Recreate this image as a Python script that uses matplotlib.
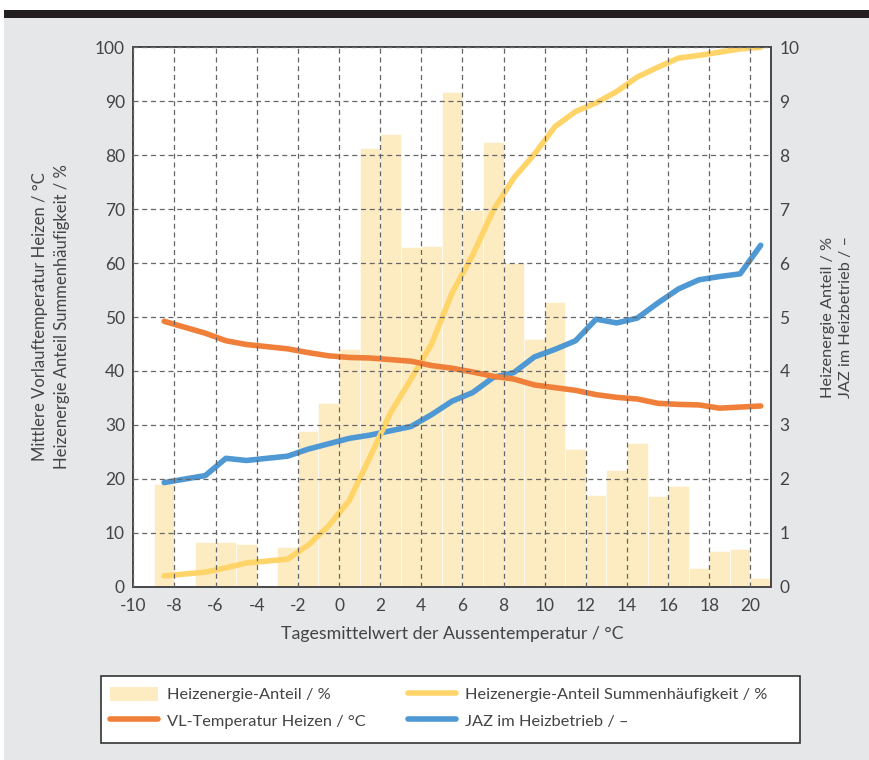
import matplotlib
matplotlib.use("Agg")
import matplotlib.pyplot as plt
from matplotlib.patches import Rectangle
from matplotlib.lines import Line2D
from matplotlib.patches import Patch

plt.rcParams['font.family'] = ['Lato', 'DejaVu Sans']
plt.rcParams['axes.unicode_minus'] = False

# ---- data ----
bar_left = [-9, -8, -7, -6, -5, -4, -3, -2, -1, 0, 1, 2, 3, 4, 5, 6, 7, 8, 9, 10,
            11, 12, 13, 14, 15, 16, 17, 18, 19, 20]
heizenergie_anteil = [1.90, 0.0, 0.835, 0.82, 0.79, 0.0, 0.74, 2.88, 3.41, 4.41,
                      8.13, 8.40, 6.30, 6.32, 9.18, 6.99, 8.24, 6.01, 4.60, 5.27,
                      2.55, 1.70, 2.16, 2.66, 1.68, 1.87, 0.35, 0.66, 0.69, 0.17]

line_x = [-8.5, -6.5, -5.5, -4.5, -2.5, -1.5, -0.5, 0.5, 1.5, 2.5, 3.5, 4.5, 5.5,
          6.5, 7.5, 8.5, 9.5, 10.5, 11.5, 12.5, 13.5, 14.5, 15.5, 16.5, 17.5,
          18.5, 19.5, 20.5]
summenhaeufigkeit = [2.0, 2.7, 3.5, 4.4, 5.1, 7.7, 11.3, 16.0, 24.0, 32.2, 38.5,
                     45.0, 54.5, 61.5, 69.8, 75.8, 80.2, 85.3, 88.1, 89.7, 91.8,
                     94.5, 96.3, 98.0, 98.5, 99.1, 99.7, 100.0]
vl_temperatur = [49.2, 47.0, 45.6, 44.9, 44.1, 43.4, 42.8, 42.5, 42.4, 42.1, 41.8,
                 41.0, 40.5, 39.8, 39.0, 38.5, 37.4, 36.9, 36.4, 35.6, 35.1, 34.8,
                 34.0, 33.8, 33.7, 33.1, 33.3, 33.5]
jaz = [1.93, 2.06, 2.38, 2.34, 2.42, 2.55, 2.65, 2.75, 2.81, 2.89, 2.97, 3.19,
       3.44, 3.60, 3.88, 3.97, 4.26, 4.40, 4.56, 4.96, 4.89, 4.98, 5.26, 5.52,
       5.69, 5.75, 5.80, 6.33]

x_ticks = list(range(-10, 21, 2))
left_ticks = list(range(0, 101, 10))
right_ticks = list(range(0, 11, 1))

# ---- style ----
bg = '#E6E7E8'
txt = '#444444'
c_bar = '#FDEBC1'
c_yel = '#FFD56A'
c_ora = '#F07F3A'
c_blu = '#4E98D4'

W, H = 869, 760
fig = plt.figure(figsize=(W / 100, H / 100), dpi=100, facecolor='white')
fig.add_artist(Rectangle((4 / W, 0), 1, 1 - 18 / H, transform=fig.transFigure,
                         facecolor=bg, edgecolor='none', zorder=-10))
fig.add_artist(Rectangle((4 / W, 1 - 18 / H), 1, 8 / H, transform=fig.transFigure,
                         facecolor='#231F20', edgecolor='none', zorder=-10))

L, R, T, B = 133.3 / W, 771 / W, 1 - 47.3 / H, 1 - 586.7 / H
ax2 = fig.add_axes([L, B, R - L, T - B])
ax1 = fig.add_axes([L, B, R - L, T - B], sharex=ax2)
ax2.set_zorder(1)
ax1.set_zorder(2)
ax1.patch.set_visible(False)
ax2.set_facecolor('white')

# bars (right scale)
ax2.bar(bar_left, heizenergie_anteil, width=1.0, align='edge', color=c_bar,
        edgecolor='white', linewidth=0.4)
ax2.plot(line_x, jaz, color=c_blu, lw=4, solid_capstyle='round',
         solid_joinstyle='round')
ax2.set_ylim(0, 10)
ax2.yaxis.tick_right()
ax2.set_yticks(right_ticks)

# lines (left scale)
ax1.plot(line_x, summenhaeufigkeit, color=c_yel, lw=4, solid_capstyle='round',
         solid_joinstyle='round')
ax1.plot(line_x, vl_temperatur, color=c_ora, lw=4, solid_capstyle='round',
         solid_joinstyle='round')
ax1.set_ylim(0, 100)
ax1.set_xlim(-10, 21)
ax1.set_xticks(x_ticks)
ax1.set_yticks(left_ticks)
ax1.grid(True, color='#666666', linestyle=(0, (4, 3)), linewidth=0.9)
ax1.set_axisbelow(False)

for ax in (ax1, ax2):
    for s in ax.spines.values():
        s.set_color('#4A4A4A')
        s.set_linewidth(1.4)
    ax.tick_params(length=0, labelsize=12.5, colors=txt, pad=6)
ax2.tick_params(axis='x', labelbottom=False)
ax1.tick_params(axis='x', pad=8)

ax1.set_xlabel('Tagesmittelwert der Aussentemperatur / °C', fontsize=12.8,
               color=txt, labelpad=9)
fig.text(51 / W, (B + T) / 2,
         'Mittlere Vorlauftemperatur Heizen / °C\nHeizenergie Anteil Summenhäufigkeit / %',
         rotation=90, ha='center', va='center', fontsize=12, color=txt,
         linespacing=1.4)
fig.text(837 / W, (B + T) / 2,
         'Heizenergie Anteil / %\nJAZ im Heizbetrieb / –',
         rotation=90, ha='center', va='center', fontsize=11.7, color=txt,
         linespacing=1.4)

# legend frame
fig.add_artist(Rectangle((101 / W, 1 - 743 / H), 699 / W, 67 / H,
                         transform=fig.transFigure, facecolor='white',
                         edgecolor='#333333', linewidth=1.2, zorder=5))

h_bar = Patch(facecolor=c_bar, edgecolor='none')
h_ora = Line2D([], [], color=c_ora, lw=4, solid_capstyle='round')
h_yel = Line2D([], [], color=c_yel, lw=4, solid_capstyle='round')
h_blu = Line2D([], [], color=c_blu, lw=4, solid_capstyle='round')

common = dict(loc='upper left', frameon=False, fontsize=11.8, handlelength=2.9,
              handleheight=0.9, handletextpad=0.6, labelspacing=0.65,
              borderpad=0.0, borderaxespad=0)
leg1 = fig.legend([h_bar, h_ora], ['Heizenergie-Anteil / %', 'VL-Temperatur Heizen / °C'],
                  bbox_to_anchor=(110 / W, 1 - 687 / H), **common)
leg2 = fig.legend([h_yel, h_blu], ['Heizenergie-Anteil Summenhäufigkeit / %',
                                   'JAZ im Heizbetrieb / –'],
                  bbox_to_anchor=(408 / W, 1 - 687 / H), **common)
for leg in (leg1, leg2):
    leg.set_zorder(6)
    for t in leg.get_texts():
        t.set_color(txt)

fig.savefig('out.png', dpi=100, facecolor=fig.get_facecolor())
